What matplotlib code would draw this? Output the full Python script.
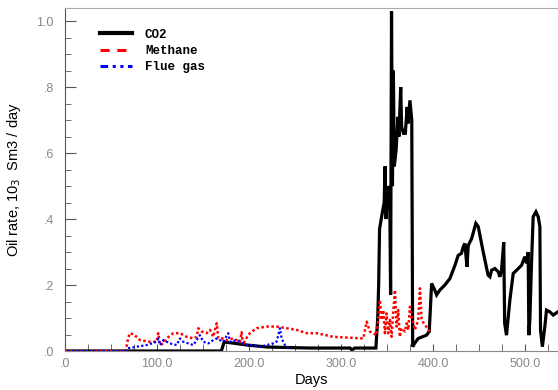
import matplotlib
matplotlib.use("Agg")
import matplotlib.pyplot as plt
from matplotlib.lines import Line2D
from matplotlib.ticker import MultipleLocator, FuncFormatter

# ---- data ----
co2_days = [0, 170, 173, 180, 198, 220, 266, 310, 312, 315, 338, 340, 341, 342, 345, 347,
            348, 349, 351, 353, 354, 355, 356, 357, 358, 360, 362, 363, 365, 366, 368, 370,
            372, 373, 375, 377, 378, 380, 384, 393, 396, 398.6, 402, 404, 407.6, 413, 418.5,
            424, 427.5, 431, 433, 434.8, 437, 438.4, 442, 446.7, 449.3, 454.7, 460, 462,
            463.8, 467.4, 471, 472.8, 474.6, 477, 478, 480, 483.7, 487.3, 491, 496.4, 500,
            501.8, 503.6, 504.3, 505.4, 507.2, 509, 512, 514.5, 516.3, 517, 519, 521.7,
            523.5, 527, 530.8, 536]
co2_rate = [0, 0, 0.027, 0.025, 0.018, 0.012, 0.009, 0.009, 0.003, 0.009, 0.009, 0.10, 0.20,
            0.37, 0.42, 0.45, 0.56, 0.40, 0.50, 0.48, 0.17, 1.03, 0.50, 0.85, 0.56, 0.61,
            0.71, 0.65, 0.80, 0.68, 0.66, 0.66, 0.74, 0.69, 0.76, 0.70, 0.013, 0.023, 0.038,
            0.048, 0.059, 0.205, 0.185, 0.17, 0.185, 0.20, 0.22, 0.26, 0.29, 0.296, 0.316,
            0.326, 0.255, 0.32, 0.34, 0.387, 0.377, 0.30, 0.23, 0.225, 0.245, 0.25, 0.24,
            0.225, 0.245, 0.33, 0.084, 0.048, 0.155, 0.235, 0.245, 0.26, 0.286, 0.266, 0.30,
            0.048, 0.094, 0.266, 0.407, 0.422, 0.407, 0.377, 0.064, 0.013, 0.074, 0.124,
            0.119, 0.109, 0.119]

methane_days = [0, 66, 68, 70.3, 75, 81.5, 92.4, 99.6, 101.4, 103.3, 106.9, 110.5, 117.8,
                125, 132.2, 139.5, 143.1, 145, 148.6, 154, 157.6, 161.2, 164.9, 166.7, 172,
                175.7, 183, 190.2, 192, 193.8, 195.7, 201, 208.3, 219.2, 230, 241, 251.8,
                262.7, 273.6, 291.7, 324.3, 328, 331.5, 338.8, 342.4, 344.2, 346, 347.8,
                349.6, 351.4, 353.3, 355, 356.9, 358.7, 360.5, 362.3, 364, 366, 369.6, 371.4,
                373.2, 375, 376.8, 380.4, 384, 385.9, 387.7, 391.3, 396.7]
methane_rate = [0, 0, 0.03, 0.054, 0.05, 0.033, 0.028, 0.028, 0.054, 0.018, 0.023, 0.038,
                0.054, 0.054, 0.043, 0.038, 0.043, 0.069, 0.059, 0.054, 0.064, 0.043, 0.084,
                0.038, 0.038, 0.033, 0.038, 0.028, 0.057, 0.018, 0.033, 0.054, 0.069, 0.074,
                0.074, 0.069, 0.064, 0.054, 0.054, 0.043, 0.038, 0.089, 0.059, 0.048, 0.155,
                0.094, 0.124, 0.054, 0.114, 0.054, 0.094, 0.043, 0.119, 0.185, 0.074, 0.124,
                0.043, 0.069, 0.059, 0.084, 0.064, 0.134, 0.104, 0.064, 0.094, 0.19, 0.094,
                0.079, 0.059]

flue_days = [0, 66, 68, 77.9, 88.8, 99.6, 101.4, 103.3, 106.9, 114.1, 121.4, 125, 128.6,
             139.5, 146.7, 150.4, 155.8, 161.2, 164.9, 172, 177.5, 179.3, 186.6, 197.5,
             204.7, 212, 219.2, 226.4, 230, 231.9, 233.7, 235.5, 239.1, 241, 242.8]
flue_rate = [0, 0, 0.008, 0.013, 0.018, 0.028, 0.038, 0.018, 0.033, 0.023, 0.018, 0.038,
             0.028, 0.018, 0.048, 0.028, 0.023, 0.033, 0.038, 0.028, 0.054, 0.028, 0.033,
             0.018, 0.018, 0.013, 0.018, 0.023, 0.028, 0.048, 0.069, 0.038, 0.018, 0.013,
             0.008]

series_labels = ['CO2', 'Methane', 'Flue gas']

fig = plt.figure(figsize=(5.58, 3.90), dpi=100)
ax = fig.add_axes([0.1165, 0.1, 0.8835, 0.8795])

# black first, dotted gas curves drawn over it like in the original
ax.plot(co2_days, co2_rate, color='black', lw=2.3, solid_joinstyle='miter')
ax.plot(methane_days, methane_rate, color='#ff0000', lw=1.8, ls=(0, (1, 1)))
ax.plot(flue_days, flue_rate, color='#0000ff', lw=1.6, ls=(1, (1, 1)))

ax.set_xlim(0, 536)
ax.set_ylim(0, 1.04)

ax.xaxis.set_major_locator(MultipleLocator(100))
ax.xaxis.set_minor_locator(MultipleLocator(25))
ax.yaxis.set_major_locator(MultipleLocator(0.2))
ax.yaxis.set_minor_locator(MultipleLocator(0.05))


def fmt(v, pos):
    s = '%.1f' % v
    if s.startswith('0'):
        s = s[1:]
    return s


ax.xaxis.set_major_formatter(FuncFormatter(fmt))
ax.yaxis.set_major_formatter(FuncFormatter(fmt))

ax.tick_params(which='both', direction='in', colors='#555555', labelcolor='#888888',
               labelsize=9, top=False, right=False)
ax.tick_params(axis='y', which='major', length=8, pad=8)
ax.tick_params(axis='y', which='minor', length=4)
ax.tick_params(axis='x', which='major', length=5, pad=5)
ax.tick_params(axis='x', which='minor', length=5)
for lab in ax.get_xticklabels() + ax.get_yticklabels():
    lab.set_family('Liberation Sans')

ax.spines['right'].set_visible(False)
ax.spines['left'].set_color('#555555')
ax.spines['top'].set_color('#aaaaaa')
ax.spines['bottom'].set_color('#888888')

ax.set_xlabel('Days', family='Liberation Sans', fontsize=10.5, labelpad=2)
ax.set_ylabel('Oil rate, 10$_3$  Sm3 / day', family='Liberation Sans', fontsize=10.5,
              labelpad=10)

handles = [Line2D([], [], color='black', lw=3),
           Line2D([], [], color='#ff0000', lw=2.2, ls=(0, (3, 2.5))),
           Line2D([], [], color='#0000ff', lw=2.2, ls=(0, (2.5, 1.5, 1, 1.5, 1, 1.5)))]
ax.legend(handles, series_labels, loc='upper left', bbox_to_anchor=(0.048, 0.973),
          frameon=False, handlelength=2.6, handletextpad=1.0, labelspacing=0.35,
          prop={'family': 'Liberation Mono', 'weight': 'bold', 'size': 9})

plt.savefig('out.png', dpi=100)
